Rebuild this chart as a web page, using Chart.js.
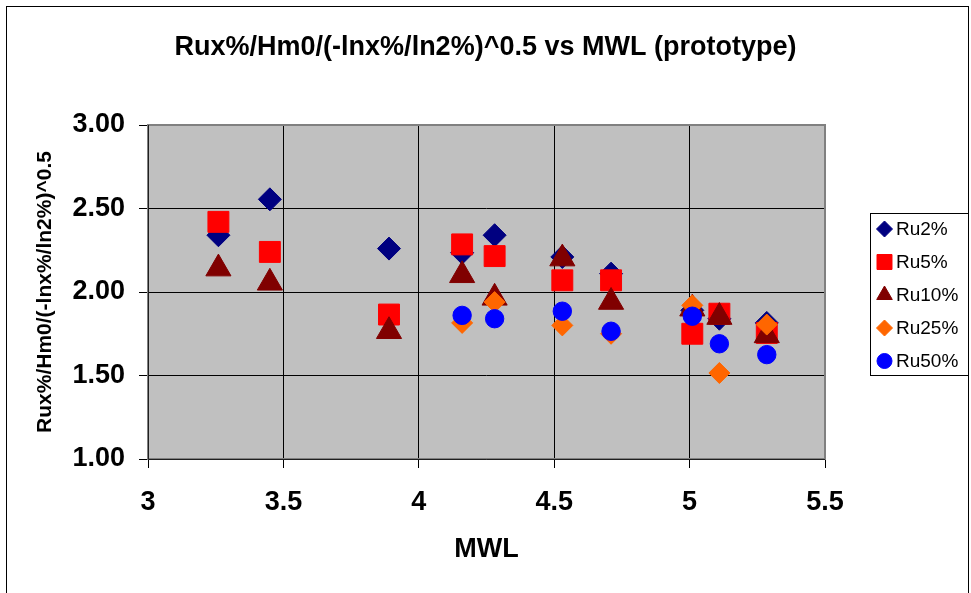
<!DOCTYPE html>
<html>
<head>
<meta charset="utf-8">
<script src="https://cdn.jsdelivr.net/npm/chart.js@4/dist/chart.umd.min.js"></script>
<style>
  html, body { margin: 0; padding: 0; background: #fff; }
  canvas { display: block; }
</style>
</head>
<body>
<canvas id="runupChart" width="971" height="593"></canvas>
<script>
// values
const mwl = [3.26, 3.45, 3.89, 4.16, 4.28, 4.53, 4.71, 5.01, 5.11, 5.285];
const ru2 = [2.34, 2.555, 2.26, 2.235, 2.34, 2.21, 2.11, 1.89, 1.84, 1.815];
const ru5 = [2.42, 2.24, 1.865, 2.285, 2.215, 2.07, 2.07, 1.75, 1.87, 1.755];
const ru10 = [2.14, 2.055, 1.765, 2.10, 1.965, 2.20, 1.94, 1.90, 1.85, 1.74];
const ru25 = [null, null, null, 1.815, 1.94, 1.80, 1.75, 1.92, 1.515, 1.805];
const ru50 = [null, null, null, 1.86, 1.84, 1.885, 1.765, 1.855, 1.69, 1.625];
const xTicks = [3, 3.5, 4, 4.5, 5, 5.5];
const yTicks = [1.0, 1.5, 2.0, 2.5, 3.0];

const FONT = "'Liberation Sans', Arial, sans-serif";

function pts(ys) {
    return mwl.map((x, i) => ({ x: x, y: ys[i] })).filter(p => p.y !== null);
}

function series(label, ys, color, style, radius, order, legendRadius) {
    return {
        label: label,
        data: pts(ys),
        pointStyle: style,
        pointRadius: radius,
        pointHoverRadius: radius,
        backgroundColor: color,
        borderColor: color,
        pointBorderWidth: 1,
        showLine: false,
        order: order,
        legendRadius: legendRadius
    };
}

const datasets = [
    series('Ru2%', ru2, '#000080', 'rectRot', 11.5, 5, 8),
    series('Ru5%', ru5, '#FF0000', 'rect', 14.8, 4, 10.6),
    series('Ru10%', ru10, '#800000', 'triangle', 14.5, 3, 9),
    series('Ru25%', ru25, '#FF6600', 'rectRot', 10.5, 2, 8),
    series('Ru50%', ru50, '#0000FF', 'circle', 9.2, 1, 7.5)
];

// grey plot area, frame and outer border
const plotFrame = {
    id: 'plotFrame',
    beforeDraw(chart) {
        const a = chart.chartArea, ctx = chart.ctx;
        ctx.save();
        ctx.fillStyle = '#C0C0C0';
        ctx.fillRect(a.left, a.top, a.right - a.left, a.bottom - a.top);
        ctx.restore();
    },
    beforeDatasetsDraw(chart) {
        const a = chart.chartArea, ctx = chart.ctx;
        ctx.save();
        ctx.strokeStyle = '#808080';
        ctx.lineWidth = 2;
        ctx.strokeRect(a.left, a.top, a.right - a.left, a.bottom - a.top);
        ctx.strokeStyle = '#202020';
        ctx.lineWidth = 1;
        ctx.beginPath();
        ctx.moveTo(a.left + 0.5, a.top);
        ctx.lineTo(a.left + 0.5, a.bottom + 0.5);
        ctx.lineTo(a.right, a.bottom + 0.5);
        ctx.stroke();
        ctx.restore();
    },
    afterDraw(chart) {
        const ctx = chart.ctx;
        ctx.save();
        ctx.strokeStyle = '#000';
        ctx.lineWidth = 1;
        ctx.strokeRect(6.5, 6.5, 962, 640);
        ctx.restore();
    }
};

// boxed legend like the original
const boxLegend = {
    id: 'boxLegend',
    afterDraw(chart) {
        const ctx = chart.ctx;
        const left = 870, top = 213, w = 99, h = 163;
        ctx.save();
        ctx.fillStyle = '#fff';
        ctx.fillRect(left, top, w, h);
        ctx.strokeStyle = '#000';
        ctx.lineWidth = 1;
        ctx.strokeRect(left + 0.5, top + 0.5, w - 1, h - 1);
        chart.data.datasets.forEach((ds, i) => {
            const y = top + 16 + i * 33;
            ctx.fillStyle = ds.backgroundColor;
            ctx.strokeStyle = ds.borderColor;
            Chart.helpers.drawPoint(ctx, {
                pointStyle: ds.pointStyle,
                radius: ds.legendRadius,
                rotation: 0,
                borderWidth: 1
            }, 884.5, y);
            ctx.fillStyle = '#000';
            ctx.font = '19px ' + FONT;
            ctx.textAlign = 'left';
            ctx.textBaseline = 'middle';
            ctx.fillText(ds.label, 896, y + 1);
        });
        ctx.restore();
    }
};

new Chart(document.getElementById('runupChart'), {
    type: 'scatter',
    data: { datasets: datasets },
    options: {
        responsive: false,
        animation: false,
        devicePixelRatio: 1,
        layout: { padding: 0 },
        plugins: {
            legend: { display: false },
            tooltip: { enabled: false },
            title: {
                display: true,
                text: 'Rux%/Hm0/(-lnx%/ln2%)^0.5 vs MWL (prototype)',
                color: '#000',
                font: { family: FONT, size: 27, weight: 'bold' },
                padding: { top: 31, bottom: 61.6 }
            }
        },
        scales: {
            x: {
                type: 'linear',
                min: 3,
                max: 5.5,
                afterBuildTicks: s => { s.ticks = xTicks.map(v => ({ value: v })); },
                afterFit: s => { s.height = 134; },
                ticks: {
                    color: '#000',
                    padding: 18,
                    font: { family: FONT, size: 27, weight: 'bold' },
                    callback: v => String(v)
                },
                grid: { color: '#000', lineWidth: 1, tickLength: 9, tickColor: '#000' },
                border: { display: false },
                title: {
                    display: true,
                    text: 'MWL',
                    color: '#000',
                    font: { family: FONT, size: 27, weight: 'bold' },
                    padding: { top: 0, bottom: 27 }
                }
            },
            y: {
                type: 'linear',
                min: 1,
                max: 3,
                afterBuildTicks: s => { s.ticks = yTicks.map(v => ({ value: v })); },
                afterFit: s => { s.width = 148; },
                ticks: {
                    color: '#000',
                    padding: 14,
                    font: { family: FONT, size: 27, weight: 'bold' },
                    callback: v => Number(v).toFixed(2)
                },
                grid: { color: '#000', lineWidth: 1, tickLength: 9, tickColor: '#000' },
                border: { display: false },
                title: {
                    display: true,
                    text: 'Rux%/Hm0/(-lnx%/ln2%)^0.5',
                    color: '#000',
                    font: { family: FONT, size: 21, weight: 'bold' },
                    padding: { top: 33, bottom: 0 }
                }
            },
            // empty axis that reserves the room where the legend sits
            legendSpace: {
                type: 'linear',
                position: 'right',
                afterFit: s => { s.width = 146; },
                ticks: { display: false },
                grid: { display: false, drawTicks: false },
                border: { display: false }
            }
        }
    },
    plugins: [plotFrame, boxLegend]
});
</script>
</body>
</html>
